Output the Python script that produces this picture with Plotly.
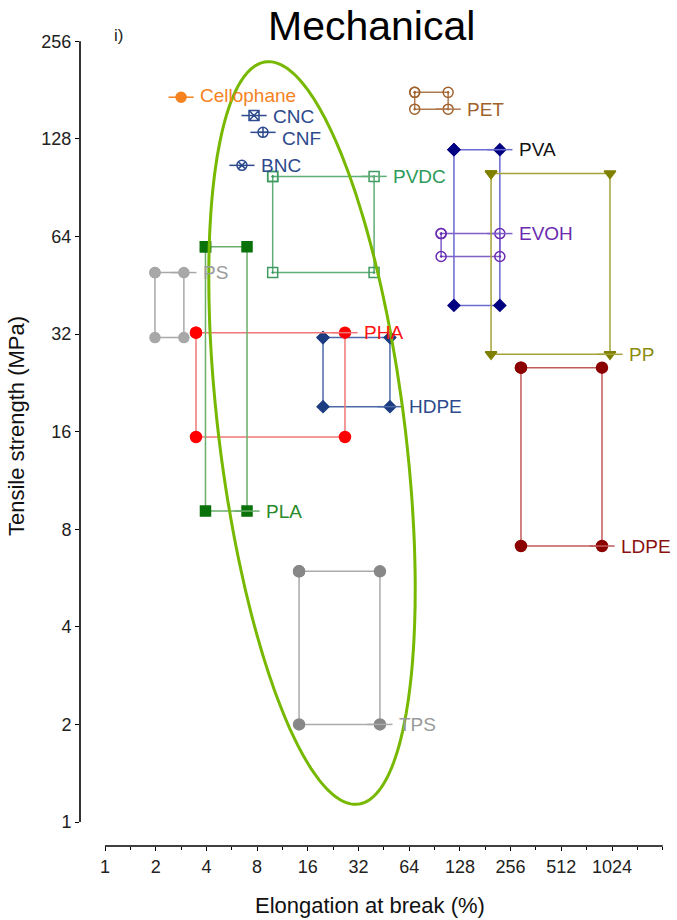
import numpy as np
import plotly.graph_objects as go

# ---- data ----
names = ["Cellophane", "CNC", "CNF", "BNC", "PVDC", "PET", "PVA", "EVOH",
         "PP", "LDPE", "HDPE", "PHA", "PLA", "PS", "TPS"]
elong_min = [2.83, 7.67, 8.67, 6.5, 9.9, 69, 118, 99, 196, 295, 19.7, 3.47, 3.95, 1.98, 14.2]
elong_max = [2.83, 7.67, 8.67, 6.5, 39.6, 109, 221, 221, 996, 893, 49.2, 26.6, 6.97, 2.94, 42.9]
tensile_min = [172, 151, 134, 106, 49.5, 158, 39.2, 55.5, 27.7, 7.1, 19.1, 15.4, 9.1, 31.2, 2.0]
tensile_max = [172, 151, 134, 106, 98, 178, 118.5, 65.3, 100, 25.2, 31.2, 32.3, 59.5, 49.5, 5.93]
label_row = ["max", "max", "max", "max", "max", "min", "max", "max",
             "min", "min", "min", "max", "min", "max", "min"]

x_ticks = [1, 2, 4, 8, 16, 32, 64, 128, 256, 512, 1024]
y_ticks = [1, 2, 4, 8, 16, 32, 64, 128, 256]

# ---- styles ----
symbols = ["circle", "square-x-open", "circle-cross-open", "circle-x-open",
           "square-open-dot", "circle-open-dot", "diamond", "circle-open-dot",
           "triangle-down", "circle", "diamond", "circle", "square", "circle", "circle"]
sizes = [10, 10, 10, 10, 10, 10, 9, 10, 10, 11, 9, 11, 10, 10, 11]
label_dy = [2, -1, -6, 0, 0, 0, 0, 0, 0, 0, 0, 0, 0, 0, 0]
marker_col = ["#f5821f", "#2c4a8c", "#2c4a8c", "#2c4a8c", "#3f9a60", "#a0622d",
              "#000080", "#6a2bb0", "#808000", "#8b0000", "#1c3c80", "#ff0000",
              "#0a720a", "#a8a8a8", "#888888"]
line_col = ["#f5821f", "#2c4a8c", "#2c4a8c", "#2c4a8c", "#5fae78", "#b07a50",
            "#6a6ad0", "#7f60c8", "#a3a33a", "#c25a5a", "#4d6aa8", "#f07878",
            "#6aae6a", "#a8a8a8", "#aaaaaa"]
text_col = ["#f5821f", "#2c4a8c", "#2c4a8c", "#2c4a8c", "#2e9a5a", "#a0622d",
            "#111111", "#6a2bb0", "#8c8c10", "#8b1010", "#2c4a8c", "#ff1010",
            "#2a8a2a", "#9a9a9a", "#9a9a9a"]

FONT = "Liberation Sans, Arial, sans-serif"

fig = go.Figure()

for i, n in enumerate(names):
    x0, x1 = elong_min[i], elong_max[i]
    y0, y1 = tensile_min[i], tensile_max[i]
    if x0 == x1 and y0 == y1:
        xs, ys = [x0], [y0]
        mode = "markers"
    else:
        xs = [x0, x1, x1, x0, x0]
        ys = [y1, y1, y0, y0, y1]
        mode = "lines+markers"
    fig.add_trace(go.Scatter(
        x=xs, y=ys, mode=mode,
        line=dict(color=line_col[i], width=1.5),
        marker=dict(symbol=symbols[i], size=sizes[i], color=marker_col[i],
                    line=dict(color=marker_col[i], width=1.5)),
        showlegend=False, hoverinfo="skip"))
    ly = y1 if label_row[i] == "max" else y0
    # short stub leading to the label
    fig.add_trace(go.Scatter(
        x=[x1], y=[ly], mode="markers",
        marker=dict(symbol="line-ew-open", size=18, color=line_col[i],
                    line=dict(color=line_col[i], width=1.5)),
        showlegend=False, hoverinfo="skip"))
    fig.add_annotation(x=np.log10(x1), y=np.log10(ly), xref="x", yref="y",
                       text=n, showarrow=False, xanchor="left", yanchor="middle",
                       xshift=17, yshift=label_dy[i],
                       font=dict(family=FONT, size=19, color=text_col[i]))

# ---- geometry (page pixels; body margin removed so page == figure) ----
W, H = 677, 920
L, R, T, B = 80, 665, 20, 846          # plot area in page pixels
X1PX, XSTEP = 105, 50.7                 # pixel of x=1, pixels per doubling
Y1PX, YSTEP = 822, 97.6                 # pixel of y=1, pixels per doubling

def px2paper(px, py):
    return (px - L) / (R - L), (B - py) / (B - T)

lg2 = np.log10(2)
x_range = [(L - X1PX) / XSTEP * lg2, (R - X1PX) / XSTEP * lg2]
y_range = [(Y1PX - B) / YSTEP * lg2, (Y1PX - T) / YSTEP * lg2]

minor_x = [2 ** (k + 0.5) for k in range(11)] + [2048]

fig.update_xaxes(type="log", range=x_range, showline=False, showgrid=False,
                 zeroline=False, tickmode="array", tickvals=x_ticks,
                 ticktext=[str(v) for v in x_ticks], ticks="outside", ticklen=4,
                 tickwidth=1.3, tickcolor="black",
                 tickfont=dict(family=FONT, size=18, color="#222"),
                 minor=dict(tickmode="array", tickvals=minor_x, ticks="outside",
                            ticklen=3, tickwidth=1.3, tickcolor="black", showgrid=False))
fig.update_yaxes(type="log", range=y_range, showline=False, showgrid=False,
                 zeroline=False, tickmode="array", tickvals=y_ticks,
                 ticktext=[str(v) for v in y_ticks], ticks="outside", ticklen=4,
                 tickwidth=1.3, tickcolor="black",
                 tickfont=dict(family=FONT, size=18, color="#222"))

shapes = []
# axis lines (data values on log axes)
shapes.append(dict(type="line", xref="paper", yref="y", x0=0, x1=0,
                   y0=1, y1=256, line=dict(color="black", width=1.6)))
shapes.append(dict(type="line", xref="x", yref="paper", x0=1, x1=2048,
                   y0=0, y1=0, line=dict(color="black", width=1.6)))

# highlight ellipse (pixel-space geometry -> paper coordinates)
cx, cy, a, b = 312, 433, 374, 93
phi = np.deg2rad(7.1)
t = np.linspace(0, 2 * np.pi, 240)
u = np.array([np.sin(phi), np.cos(phi)])
v = np.array([np.cos(phi), -np.sin(phi)])
pts = []
for tt in t:
    px = cx + a * np.cos(tt) * u[0] + b * np.sin(tt) * v[0]
    py = cy + a * np.cos(tt) * u[1] + b * np.sin(tt) * v[1]
    pts.append(px2paper(px, py))
path = "M " + " L ".join(f"{p[0]:.4f},{p[1]:.4f}" for p in pts) + " Z"
shapes.append(dict(type="path", xref="paper", yref="paper", path=path,
                   line=dict(color="#77b800", width=3)))
fig.update_layout(shapes=shapes)

# texts
def text_at(px, py, text, size, angle=0, color="#111"):
    ax_, ay_ = px2paper(px, py)
    fig.add_annotation(x=ax_, y=ay_, xref="paper", yref="paper", text=text,
                       showarrow=False, xanchor="center", yanchor="middle",
                       textangle=angle, font=dict(family=FONT, size=size, color=color))

text_at(371, 26, "Mechanical", 41, color="black")
text_at(118, 36, "i)", 17, color="#222")
text_at(16, 426, "Tensile strength (MPa)", 22, angle=-90)
text_at(370, 905, "Elongation at break (%)", 22)

fig.update_layout(width=W, height=H,
                  margin=dict(l=L, r=W - R, t=T, b=H - B),
                  plot_bgcolor="white", paper_bgcolor="white",
                  font=dict(family=FONT))

fig.write_html("out.html", config={"displayModeBar": False},
               post_script="document.body.style.margin='0px';"
                           "document.body.style.overflow='hidden';")
